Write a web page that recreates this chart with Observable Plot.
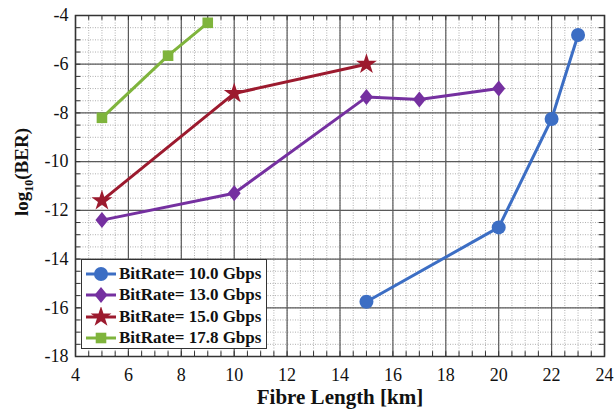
<!DOCTYPE html>
<html><head><meta charset="utf-8">
<script src="https://cdn.jsdelivr.net/npm/d3@7"></script>
<script src="https://cdn.jsdelivr.net/npm/@observablehq/plot@0.6"></script>
<style>
body{margin:0;background:#fff}
#wrap{position:relative;width:614px;height:412px;font-family:"Liberation Serif","Times New Roman",serif}
#wrap svg, #wrap svg text{font-family:"Liberation Serif","Times New Roman",serif !important}
#legend{position:absolute;left:81px;top:259px;width:186px;height:90px;border:1.5px solid #333;background:#fff;box-sizing:border-box;padding-top:3px}
.row{display:flex;align-items:center;height:21.5px;font-weight:bold;font-size:17px;color:#111;white-space:nowrap;font-family:"Liberation Serif","Times New Roman",serif}
.row svg{margin-left:3px;margin-right:2px}
</style>
</head><body><div id="wrap"><div id="legend"></div></div>
<script>
const seriesNames = ["BitRate= 10.0 Gbps","BitRate= 13.0 Gbps","BitRate= 15.0 Gbps","BitRate= 17.8 Gbps"];
const seriesColors = ["#3c6ec4","#7530a0","#9c1a2e","#7fb43c"];
const seriesSymbols = ["circle","diamond","star","square"];

const len10 = [15,20,22,23];
const ber10 = [-15.75,-12.7,-8.25,-4.8];
const len13 = [5,10,15,17,20];
const ber13 = [-12.4,-11.3,-7.35,-7.45,-7.0];
const len15 = [5,10,15];
const ber15 = [-11.6,-7.2,-6.0];
const len178 = [5,7.5,9];
const ber178 = [-8.2,-5.65,-4.3];

const xTicks = [4,6,8,10,12,14,16,18,20,22,24];
const yTicks = [-18,-16,-14,-12,-10,-8,-6,-4];
const xMinor = d3.range(4,24.001,0.5);
const yMinor = d3.range(-18,-3.999,0.5);

const lens = [len10,len13,len15,len178];
const bers = [ber10,ber13,ber15,ber178];
const data = [];
lens.forEach((L,i)=>L.forEach((x,j)=>data.push({series:seriesNames[i],idx:i,x,y:bers[i][j]})));

// custom marker shapes (drawn around origin)
const wideDiamond = {draw(ctx,size){const h=8,w=6.5;ctx.moveTo(0,-h);ctx.lineTo(w,0);ctx.lineTo(0,h);ctx.lineTo(-w,0);ctx.closePath();}};
const symbolMap = {circle:d3.symbolCircle,diamond:wideDiamond,star:d3.symbolStar,square:d3.symbolSquare};
const symbolSize = [7*7*Math.PI, 100, 135, 112];
const symbolR = symbolSize.map(s=>Math.sqrt(s/Math.PI));

const tickLenY = 0.2, tickLenX = 0.2; // inward tick length in data units
const marks = [
  Plot.ruleX(xMinor,{stroke:"#9a9a9a",strokeWidth:0.8,strokeDasharray:"1,1.5"}),
  Plot.ruleY(yMinor,{stroke:"#9a9a9a",strokeWidth:0.8,strokeDasharray:"1,1.5"}),
  Plot.ruleX(xTicks,{stroke:"#5a5a5a",strokeWidth:1.2}),
  Plot.ruleY(yTicks,{stroke:"#5a5a5a",strokeWidth:1.2}),
  // inward minor ticks (MATLAB style)
  Plot.ruleX(xMinor,{y1:-18,y2:-18+tickLenY,stroke:"#333",strokeWidth:1}),
  Plot.ruleX(xMinor,{y1:-4,y2:-4-tickLenY,stroke:"#333",strokeWidth:1}),
  Plot.ruleY(yMinor,{x1:4,x2:4+tickLenX,stroke:"#333",strokeWidth:1}),
  Plot.ruleY(yMinor,{x1:24,x2:24-tickLenX,stroke:"#333",strokeWidth:1}),
  Plot.line(data,{x:"x",y:"y",z:"series",stroke:"series",strokeWidth:3})
];
seriesNames.forEach((s,i)=>{
  marks.push(Plot.dot(data.filter(d=>d.idx===i),{x:"x",y:"y",symbol:()=>symbolMap[seriesSymbols[i]],r:symbolR[i],fill:"series",stroke:"none"}));
});
marks.push(Plot.frame({stroke:"#333",strokeWidth:1.5}));

const chart = Plot.plot({
  width:614,height:412,
  marginLeft:75,marginRight:10,marginTop:15,marginBottom:56,
  style:{fontSize:"18px",color:"#111",background:"#fff"},
  x:{domain:[4,24],ticks:xTicks,tickSize:0,tickPadding:12,label:null,tickFormat:d=>String(d)},
  y:{domain:[-18,-4],ticks:yTicks,tickSize:0,tickPadding:7,label:null,tickFormat:d=>String(d)},
  color:{domain:seriesNames,range:seriesColors},
  marks
});
document.getElementById("wrap").prepend(chart);

const svg = d3.select(chart);
svg.append("text").attr("x",340).attr("y",404).attr("text-anchor","middle")
  .attr("font-weight","bold").attr("font-size",21).attr("fill","#111")
  .text("Fibre Length [km]");
const yl = svg.append("text").attr("transform","translate(28,172) rotate(-90)").attr("text-anchor","middle")
  .attr("font-weight","bold").attr("font-size",19).attr("fill","#111");
yl.append("tspan").text("log");
yl.append("tspan").attr("font-size",12).attr("dy",5).text("10");
yl.append("tspan").attr("dy",-5).text("(BER)");

const leg = d3.select("#legend");
seriesNames.forEach((s,i)=>{
  const row = leg.append("div").attr("class","row");
  const sv = row.append("svg").attr("width",32).attr("height",20);
  sv.append("line").attr("x1",1).attr("x2",31).attr("y1",10).attr("y2",10).attr("stroke",seriesColors[i]).attr("stroke-width",3);
  sv.append("path").attr("transform","translate(16,10)")
    .attr("d",d3.symbol(symbolMap[seriesSymbols[i]], symbolSize[i])())
    .attr("fill",seriesColors[i]);
  row.append("span").text(s);
});
</script>
</body></html>
